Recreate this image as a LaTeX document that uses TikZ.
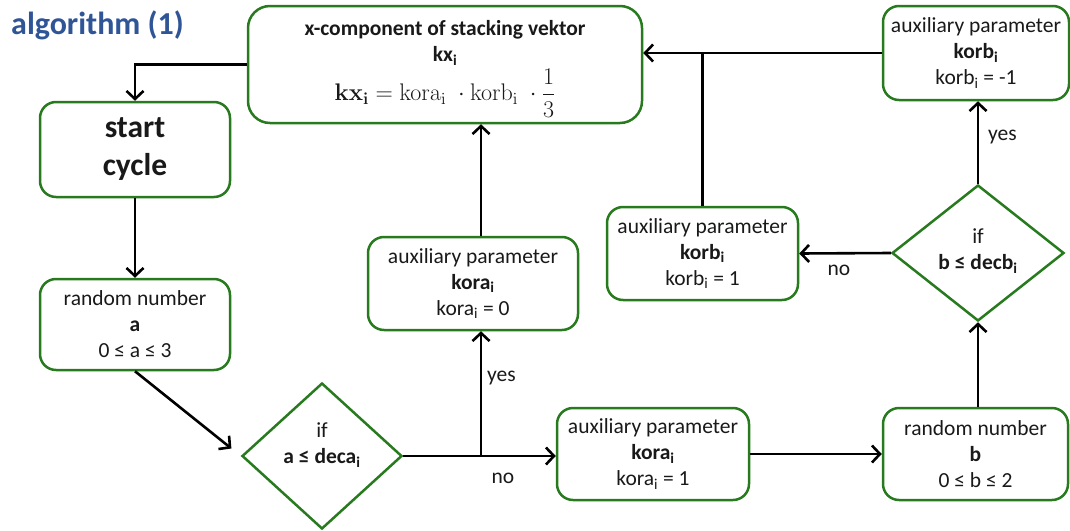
\RequirePackage{fix-cm}
\documentclass[tikz,border=0pt]{standalone}
\usepackage[no-math]{fontspec}
\setmainfont{Carlito}
\usetikzlibrary{arrows.meta,shapes.geometric,calc}

\definecolor{boxgreen}{RGB}{40,122,30}
\definecolor{titleblue}{RGB}{47,85,151}
\definecolor{ink}{RGB}{25,25,25}

\tikzset{
  x=1pt, y=-1pt,
  box/.style={draw=boxgreen, line width=2.5pt, rounded corners=16pt,
    align=center, inner sep=0pt, text=ink,
    font=\fontsize{21.5}{26}\selectfont},
  decision/.style={diamond, draw=boxgreen, line width=2.5pt,
    inner sep=0pt},
  flow/.style={line width=2.6pt, draw=black,
    -{Straight Barb[length=8pt,width=17pt]}},
  joint/.style={line width=2.6pt, draw=black},
  lbl/.style={text=ink, inner sep=0pt, align=center,
    font=\fontsize{21.5}{26}\selectfont}
}

\begin{document}
\begin{tikzpicture}
\useasboundingbox (0,0) rectangle (1070,530);

% title
\node[anchor=base west, inner sep=0pt, text=titleblue,
      font=\fontsize{32}{38}\selectfont\bfseries] (title) at (11,34) {algorithm (1)};

% stacking vector box: frame, heading and formula
\node[box, minimum width=394pt, minimum height=117pt, rounded corners=22pt] (kx) at (445,64.5) {};
\node[lbl, font=\fontsize{21.5}{26}\selectfont\bfseries] (kxhead) at (445,43)
  {x-component of stacking vektor\\kx\textsubscript{i}};
\node[lbl, font=\fontsize{24}{28}\selectfont] (kxformula) at (445,93)
  {$\mathbf{kx_i} = \mathrm{kora_i}\;\cdot\mathrm{korb_i}\;\cdot\displaystyle\frac{1}{3}$};

% process boxes
\node[box, minimum width=190pt, minimum height=95pt,
      font=\fontsize{31.5}{38}\selectfont\bfseries] (start) at (135,149.5) {start\\cycle};

\node[box, minimum width=190pt, minimum height=91pt] (randa) at (135,324.5)
  {random number\\\textbf{a}\\0 ≤ a ≤ 3};

\node[decision, minimum width=160pt, minimum height=146pt] (deca) at (322,456) {};
\node[lbl] (decatext) at (322,445) {if\\\textbf{a ≤ deca\textsubscript{i}}};

\node[box, minimum width=210pt, minimum height=93pt] (kora0) at (473,283.5)
  {auxiliary parameter\\\textbf{kora\textsubscript{i}}\\kora\textsubscript{i} = 0};

\node[box, minimum width=192pt, minimum height=92pt] (kora1) at (653,454)
  {auxiliary parameter\\\textbf{kora\textsubscript{i}}\\kora\textsubscript{i} = 1};

\node[box, minimum width=185pt, minimum height=92pt] (randb) at (975.5,454)
  {random number\\\textbf{b}\\0 ≤ b ≤ 2};

\node[decision, minimum width=172pt, minimum height=136pt] (decb) at (978,253) {};
\node[lbl] (decbtext) at (978,251) {if\\\textbf{b ≤ decb\textsubscript{i}}};

\node[box, minimum width=191pt, minimum height=93pt] (korb1) at (702.5,253.5)
  {auxiliary parameter\\\textbf{korb\textsubscript{i}}\\korb\textsubscript{i} = 1};

\node[box, minimum width=186pt, minimum height=94pt] (korbm) at (976,53)
  {auxiliary parameter\\\textbf{korb\textsubscript{i}}\\korb\textsubscript{i} = -1};

% branch point of the first decision
\coordinate (j) at (481,456);

% connectors
\draw[flow] (kx.west) -| (start.north);
\draw[flow] (start) -- (randa);
\draw[flow, shorten >=12pt] (randa.south) -- (deca.west);
\draw[flow] (deca.east) -- (deca.east -| kora1.west);
\draw[flow] (j) -- (kora0.south -| j);
\draw[flow] (kora0.north -| j) -- (kx.south -| j);
\draw[flow] (kora1.east) -- (randb.west);
\draw[flow] (randb.north -| decb.south) -- (decb.south);
\draw[flow] (decb.west) -- (korb1.east);
\draw[flow] (decb.north) -- (korbm.south -| decb.north);
\draw[flow] (korbm.west) -- (kx.east |- korbm.west);
\draw[joint] (korb1.north) -- (korb1.north |- korbm.west);

% branch labels
\node[lbl, anchor=west] (yesa) at (487,378) {yes};
\node[lbl] (noa) at (503,478) {no};
\node[lbl] (nob) at (839,270) {no};
\node[lbl, anchor=west] (yesb) at (988,137) {yes};
\end{tikzpicture}
\end{document}
